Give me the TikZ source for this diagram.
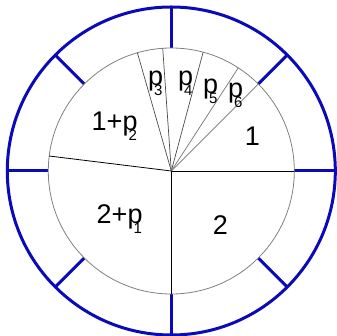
\documentclass[tikz,border=0pt]{standalone}
\usepackage{fontspec}
\setmainfont{Liberation Sans}
\usepackage{tikz}
\usetikzlibrary{positioning}

\definecolor{ringblue}{RGB}{10,10,185}
\newcommand{\psub}[1]{p\kern-9pt\raisebox{-10pt}{\fontsize{15}{15}\selectfont #1}}

\begin{document}
\begin{tikzpicture}[
      x=1pt, y=1pt,
      ring/.style={draw=ringblue, line width=3pt},
      wheel/.style={draw=gray, line width=0.8pt},
      cut/.style={draw=black, line width=0.8pt},
      slice/.style={draw=black!70, line width=0.7pt},
      every node/.style={font=\fontsize{27}{30}\selectfont, inner sep=0pt}
    ]
      \useasboundingbox (-171.3,-165) rectangle (164.7,171);
      \coordinate (o) at (0,0);
      % outer ring and spokes
      \draw[ring] (o) circle (164);
      \foreach \a in {0,45,...,315}
        \draw[ring] (\a:123) -- (\a:164);
      % inner wheel
      \draw[wheel] (o) circle (123);
      \draw[cut] (o) -- (0:123);
      \draw[cut] (o) -- (270:123);
      \draw[cut] (o) -- (173:123);
      \foreach \a in {106,94,75}
        \draw[slice] (o) -- (\a:123);
      \foreach \a in {57,45}
        \draw[slice, draw=black!55] (o) -- (\a:123);
      % labels
      \node (p3) at (-16,88) {\psub{3}};
      \node (p4) at (14,88) {\psub{4}};
      \node (p5) at (39,80) {\psub{5}};
      \node (p6) at (64,76) {\psub{6}};
      \node (onep2) at (-57,45) {1+\psub{2}};
      \node (one) at (81,35) {1};
      \node (twop1) at (-52,-48) {2+\psub{1}};
      \node (two) at (49,-54) {2};
    \end{tikzpicture}
\end{document}
